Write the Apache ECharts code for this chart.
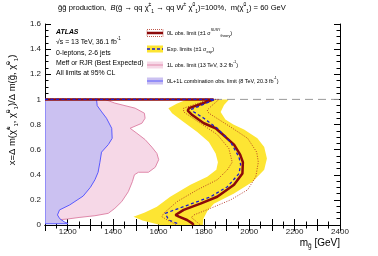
<!DOCTYPE html>
<html><head><meta charset="utf-8">
<script src="https://cdn.jsdelivr.net/npm/echarts@6/dist/echarts.min.js"></script>
<style>html,body{margin:0;padding:0;background:#fff}#c{width:378px;height:256px}</style>
</head><body><div id="c"></div>
<script>
// ---- data (m_gluino [GeV], x) ----
const xTickLabels = [1200, 1400, 1600, 1800, 2000, 2200, 2400];
const yTickLabels = [0, 0.2, 0.4, 0.6, 0.8, 1, 1.2, 1.4, 1.6];
const kinematicLine = [[1100, 1], [2400, 1]];
const obsLimit = [[1100,1],[1843,1],[1790,0.965],[1735,0.93],[1729,0.91],[1749,0.875],[1800,0.81],[1852,0.77],[1896,0.70],[1933,0.64],[1960,0.56],[1972,0.50],[1970,0.41],[1933,0.32],[1859,0.225],[1785,0.17],[1711,0.12],[1675,0.08],[1690,0.066],[1726,0.04],[1749,0.013],[1755,0]];
const expLimit = [[1100,1],[1848,1],[1792,0.955],[1745,0.92],[1756,0.90],[1800,0.85],[1859,0.77],[1918,0.66],[1955,0.54],[1962,0.48],[1955,0.41],[1904,0.305],[1830,0.225],[1711,0.146],[1630,0.093],[1623,0.08],[1645,0.04],[1682,0.013],[1690,0]];
const obsTheoryDown = [[1100,1],[1822,1],[1760,0.96],[1711,0.93],[1711,0.90],[1785,0.81],[1859,0.72],[1910,0.61],[1925,0.50],[1904,0.44],[1859,0.36],[1771,0.28],[1682,0.186],[1623,0.093],[1615,0.066],[1652,0.026],[1682,0]];
const obsTheoryUp = [[1100,1],[1867,1],[1835,0.95],[1815,0.915],[1822,0.89],[1918,0.78],[1993,0.69],[2033,0.58],[2040,0.50],[2029,0.385],[1993,0.28],[1918,0.20],[1830,0.133],[1756,0.08],[1745,0.06],[1785,0]];
const expBand = [[1726,1],[1680,0.965],[1644,0.93],[1660,0.89],[1711,0.82],[1771,0.74],[1822,0.66],[1852,0.57],[1862,0.50],[1855,0.44],[1815,0.385],[1741,0.32],[1652,0.225],[1593,0.146],[1540,0.10],[1490,0.066],[1530,0.035],[1608,0],[1795,0],[1798,0.05],[1815,0.11],[1844,0.17],[1933,0.25],[2015,0.345],[2066,0.44],[2078,0.53],[2066,0.62],[2036,0.69],[1977,0.76],[1930,0.80],[1895,0.84],[1874,0.90],[1889,0.955],[1911,1]];
const oneLepObs = [[1100,1],[1364,1],[1408,0.97],[1497,0.93],[1538,0.89],[1541,0.85],[1527,0.81],[1475,0.77],[1505,0.73],[1541,0.68],[1571,0.62],[1593,0.57],[1601,0.52],[1586,0.46],[1556,0.42],[1512,0.42],[1494,0.40],[1485,0.345],[1467,0.265],[1438,0.186],[1408,0.133],[1379,0.093],[1320,0.074],[1250,0.06],[1200,0.048],[1150,0.04],[1100,0.04]];
const combObs8TeV = [[1100,1],[1327,1],[1330,0.95],[1350,0.90],[1371,0.85],[1394,0.77],[1396,0.69],[1379,0.64],[1349,0.58],[1342,0.50],[1334,0.42],[1320,0.36],[1300,0.30],[1268,0.23],[1209,0.16],[1164,0.12],[1155,0.08],[1165,0.05],[1185,0.025],[1200,0.013],[1200,0.01],[1100,0.01]];

const FONT = '"Liberation Sans", Arial, sans-serif';
const chart = echarts.init(document.getElementById('c'), null, {renderer: 'canvas'});

function poly(pts, fill, stroke, z) {
  return {
    type: 'custom', data: pts, z: z, silent: true, clip: true,
    encode: {x: 0, y: 1},
    renderItem: function (params, api) {
      if (params.dataIndex !== 0) return null;
      return {type: 'polygon', shape: {points: pts.map(p => api.coord(p))},
        style: {fill: fill, stroke: stroke, lineWidth: stroke ? 1 : 0}};
    }
  };
}
function line(pts, color, width, type, z) {
  return {type: 'line', data: pts, showSymbol: false, symbol: 'none', z: z, silent: true,
    lineStyle: {color: color, width: width, type: type}, animation: false};
}

const axisCommon = {
  axisLine: {lineStyle: {color: '#000', width: 1}},
  axisTick: {inside: true, length: 6, lineStyle: {color: '#000'}},
  splitLine: {show: false}
};

const rich = (fs, lh) => ({
  n: {fontSize: fs, fontFamily: FONT, lineHeight: lh, verticalAlign: 'middle', color: '#000'},
  i: {fontSize: fs, fontFamily: FONT, fontStyle: 'italic', lineHeight: lh, verticalAlign: 'middle', color: '#000'},
  b: {fontSize: fs, fontFamily: FONT, fontWeight: 'bold', fontStyle: 'italic', lineHeight: lh, verticalAlign: 'middle', color: '#000'},
  sup: {fontSize: fs * 0.65, fontFamily: FONT, lineHeight: lh, verticalAlign: 'top', color: '#000'},
  sub: {fontSize: fs * 0.65, fontFamily: FONT, lineHeight: lh, verticalAlign: 'bottom', color: '#000'}
});

const legendRows = [
  {y: 33, text: '{n|0L obs. limit (±1 σ}{sup|SUSY}{sub|theory}{n|)}'},
  {y: 49, text: '{n|Exp. limits (±1 σ}{sub|exp}{n|)}'},
  {y: 65, text: '{n|1L obs. limit (13 TeV, 3.2 fb}{sup|-1}{n|)}'},
  {y: 81, text: '{n|0L+1L combination obs. limit (8 TeV, 20.3 fb}{sup|-1}{n|)}'}
];
const LX = 147, LW = 16, LH = 7;
const graphics = [];
graphics.push({type: 'rect', shape: {x: LX, y: 33 - LH/2, width: LW, height: LH}, style: {fill: 'none', stroke: '#b03020', lineWidth: 0.8, lineDash: [1, 1]}});
graphics.push({type: 'line', shape: {x1: LX, y1: 33, x2: LX + LW, y2: 33}, style: {stroke: '#8c0a0a', lineWidth: 2.5}});
graphics.push({type: 'rect', shape: {x: LX, y: 49 - LH/2, width: LW, height: LH}, style: {fill: '#fde533'}});
graphics.push({type: 'line', shape: {x1: LX, y1: 49, x2: LX + LW, y2: 49}, style: {stroke: '#1a1ad0', lineWidth: 1.5, lineDash: [3, 2]}});
graphics.push({type: 'rect', shape: {x: LX, y: 65 - LH/2, width: LW, height: LH}, style: {fill: '#f6d8e7'}});
graphics.push({type: 'line', shape: {x1: LX, y1: 65, x2: LX + LW, y2: 65}, style: {stroke: '#e088aa', lineWidth: 1}});
graphics.push({type: 'rect', shape: {x: LX, y: 81 - LH/2, width: LW, height: LH}, style: {fill: '#cbc1f1'}});
graphics.push({type: 'line', shape: {x1: LX, y1: 81, x2: LX + LW, y2: 81}, style: {stroke: '#5a5aff', lineWidth: 1}});
legendRows.forEach(r => graphics.push({type: 'text', x: 167, y: r.y, style: {text: r.text, rich: rich(5.5, 10), verticalAlign: 'middle', align: 'left'}}));
const info = [
  {y: 32, text: '{b|ATLAS}'},
  {y: 42, text: '{n|√s = 13 TeV, 36.1 fb}{sup|-1}'},
  {y: 53, text: '{n|0-leptons, 2-6 jets}'},
  {y: 63, text: '{n|Meff or RJR (Best Expected)}'},
  {y: 73, text: '{n|All limits at 95% CL}'}
];
info.forEach(r => graphics.push({type: 'text', x: 56, y: r.y, style: {text: r.text, rich: rich(6.9, 10), verticalAlign: 'middle', align: 'left'}}));
graphics.push({type: 'text', x: 172, y: 8, style: {align: 'center', verticalAlign: 'middle', rich: rich(7.6, 12),
  text: '{n|g̃g̃ production,  }{i|B}{n|(g̃ → qq χ̃}{sup|±}{sub|1}{n| → qq W}{sup|±}{n| χ̃}{sup|0}{sub|1}{n|)=100%,  m(χ̃}{sup|0}{sub|1}{n|) = 60 GeV}'}});
graphics.push({type: 'text', x: 12, y: 110, rotation: Math.PI / 2, style: {align: 'center', verticalAlign: 'middle', rich: rich(9.5, 14),
  text: '{n|x=Δ m(χ̃}{sup|±}{sub|1}{n|, χ̃}{sup|0}{sub|1}{n|)/Δ m(g̃, χ̃}{sup|0}{sub|1}{n|)}'}});
graphics.push({type: 'text', x: 340, y: 243, style: {align: 'right', verticalAlign: 'middle', rich: rich(10, 14),
  text: '{n|m}{sub|g̃}{n| [GeV]}'}});

const xMinor = {show: true, splitNumber: 2, length: 3.5, lineStyle: {color: '#000'}};
const yMinor = {show: true, splitNumber: 4, length: 3.5, lineStyle: {color: '#000'}};
const option = {
  animation: false,
  backgroundColor: '#fff',
  grid: {left: 45, right: 38, top: 24, bottom: 31, show: false},
  xAxis: [
    Object.assign({type: 'value', min: 1100, max: 2400, interval: 100, position: 'bottom',
      axisLabel: {fontSize: 8, fontFamily: FONT, color: '#222', margin: 3,
        formatter: v => xTickLabels.indexOf(v) >= 0 ? String(v) : ''}}, axisCommon, {minorTick: xMinor}),
    Object.assign({type: 'value', min: 1100, max: 2400, interval: 100, position: 'top',
      axisLabel: {show: false}}, axisCommon, {minorTick: xMinor})
  ],
  yAxis: [
    Object.assign({type: 'value', min: 0, max: 1.6, interval: 0.2, position: 'left',
      axisLabel: {fontSize: 8, fontFamily: FONT, color: '#222', margin: 4,
        formatter: v => { const t = yTickLabels.find(k => Math.abs(k - v) < 1e-6); return t === undefined ? '' : String(t); }}},
      axisCommon, {minorTick: yMinor}),
    Object.assign({type: 'value', min: 0, max: 1.6, interval: 0.2, position: 'right',
      axisLabel: {show: false}}, axisCommon, {minorTick: yMinor})
  ],
  series: [
    poly(expBand, '#fde533', null, 1),
    poly(oneLepObs, '#f6d8e7', '#e088aa', 2),
    poly(combObs8TeV, '#cbc1f1', '#5a5aff', 3),
    line(kinematicLine, '#999', 1, [8, 5], 4),
    line(obsTheoryDown, '#b03020', 0.9, [1, 1.5], 5),
    line(obsTheoryUp, '#b03020', 0.9, [1, 1.5], 5),
    line(obsLimit, '#8c0a0a', 2.5, 'solid', 6),
    line(expLimit, '#1a1ad0', 1.3, [3, 2.5], 7)
  ],
  graphic: graphics
};
chart.setOption(option);
</script>
</body></html>
